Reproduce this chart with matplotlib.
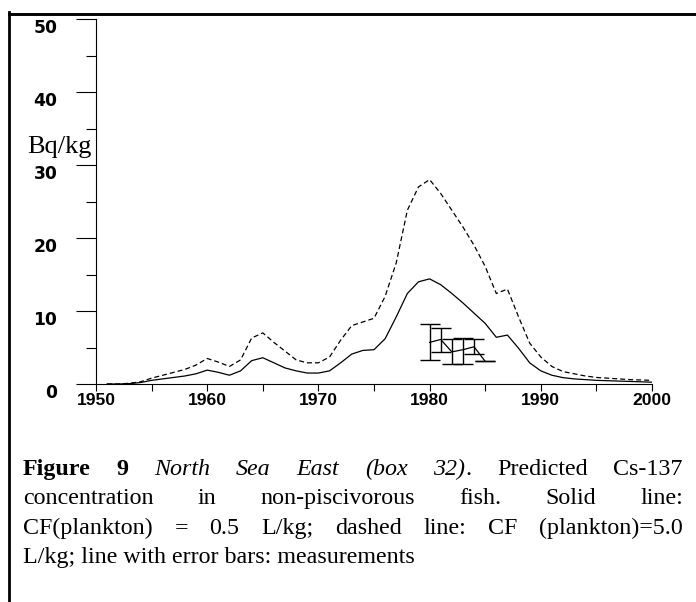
import matplotlib
matplotlib.use('Agg')
import matplotlib.pyplot as plt
from matplotlib.lines import Line2D

# model predictions, Bq/kg
years = list(range(1951, 2001))
solid_cf05 = [0.0, 0.0, 0.05, 0.2, 0.5, 0.7, 0.9, 1.1, 1.4, 1.9,
              1.6, 1.2, 1.8, 3.2, 3.6, 2.9, 2.2, 1.8, 1.5, 1.5,
              1.8, 2.9, 4.1, 4.6, 4.7, 6.2, 9.2, 12.4, 14.0, 14.4,
              13.6, 12.4, 11.1, 9.7, 8.3, 6.4, 6.7, 4.9, 2.9, 1.8,
              1.2, 0.87, 0.7, 0.6, 0.5, 0.45, 0.4, 0.35, 0.3, 0.25]
dashed_cf50 = [0.0, 0.0, 0.1, 0.3, 0.8, 1.2, 1.6, 2.0, 2.6, 3.5,
               3.0, 2.4, 3.3, 6.3, 7.0, 5.7, 4.5, 3.3, 2.9, 2.9,
               3.7, 6.0, 8.0, 8.5, 9.0, 12.0, 16.6, 23.8, 27.0, 28.0,
               26.1, 23.8, 21.5, 19.0, 16.1, 12.4, 13.0, 9.2, 5.6, 3.7,
               2.4, 1.7, 1.4, 1.1, 0.9, 0.8, 0.7, 0.6, 0.55, 0.5]

# measurements
meas_years = [1980, 1981, 1982, 1983, 1984, 1985]
meas_vals = [5.7, 6.1, 4.4, 4.7, 5.1, 3.1]
meas_low = [3.3, 4.4, 2.7, 2.8, 4.1, 3.1]
meas_high = [8.2, 7.7, 6.2, 6.3, 6.2, 3.1]

W, H = 696, 602
fig = plt.figure(figsize=(W / 100, H / 100), dpi=100)
ax = fig.add_axes([96 / W, 1 - 384 / H, 556 / W, 365 / H])

ax.plot(years, solid_cf05, color='black', lw=0.9)
ax.plot(years, dashed_cf50, color='black', lw=0.9, dashes=(4, 2.4))
err = [[v - lo for v, lo in zip(meas_vals, meas_low)],
       [hi - v for v, hi in zip(meas_vals, meas_high)]]
ax.errorbar(meas_years, meas_vals, yerr=err, color='black', lw=0.9,
            elinewidth=1.0, capsize=7, capthick=1.0)

ax.set_xlim(1950, 2000); ax.set_ylim(0, 50)
for s in ['top', 'right']:
    ax.spines[s].set_visible(False)
for s in ['left', 'bottom']:
    ax.spines[s].set_linewidth(0.8)
ax.set_xticks(range(1950, 2001, 10))
ax.set_xticks(range(1955, 2000, 10), minor=True)
ax.set_yticks(range(0, 51, 10))
ax.set_yticks(range(5, 50, 10), minor=True)
ax.tick_params(axis='x', which='both', direction='out', length=5, width=0.8, pad=1.5)
ax.tick_params(axis='y', which='major', direction='out', length=14.4, width=0.8, pad=13.5)
ax.tick_params(axis='y', which='minor', direction='out', length=7.2, width=0.8)
plt.setp(ax.get_xticklabels(), family='Liberation Sans', weight='bold', fontsize=12.6)
plt.setp(ax.get_yticklabels(), family='DejaVu Sans', weight='bold', fontsize=12.3, va='top')

fig.text(27 / W, 1 - 152.7 / H, 'Bq/kg', family='Liberation Serif', fontsize=19, va='baseline')

# frame
fig.add_artist(Line2D([8.5 / W, 1], [1 - 13.5 / H] * 2, transform=fig.transFigure, lw=2.1, color='black'))
fig.add_artist(Line2D([8.5 / W] * 2, [1 - 12 / H, 0], transform=fig.transFigure, lw=2.0, color='black'))

# caption, justified
styles = {'b': dict(weight='bold'), 'i': dict(style='italic'), 'r': {}}
cap_lines = [
    [[('Figure', 'b')], [('9', 'b')], [('North', 'i')], [('Sea', 'i')], [('East', 'i')],
     [('(box', 'i')], [('32)', 'i'), ('.', 'r')], [('Predicted', 'r')], [('Cs-137', 'r')]],
    [[(w, 'r')] for w in 'concentration in non-piscivorous fish. Solid line:'.split()],
    [[(w, 'r')] for w in 'CF(plankton) = 0.5 L/kg; dashed line: CF (plankton)=5.0'.split()],
]
cap_font = dict(family='Liberation Serif', fontsize=17.3)
left, right, base0, pitch = 23, 683, 475, 29.3
renderer = fig.canvas.get_renderer()

def seg_width(s, st):
    t = fig.text(0, 0, s, **cap_font, **styles[st])
    w = t.get_window_extent(renderer).width
    t.remove()
    return w

for i, words in enumerate(cap_lines):
    widths = [[seg_width(s, st) for s, st in word] for word in words]
    total = sum(sum(w) for w in widths)
    gap = (right - left - total) / (len(words) - 1)
    x = left
    y = 1 - (base0 + i * pitch) / H
    for word, ws in zip(words, widths):
        for (s, st), w in zip(word, ws):
            fig.text(x / W, y, s, va='baseline', ha='left', **cap_font, **styles[st])
            x += w
        x += gap
fig.text(left / W, 1 - (base0 + 3 * pitch) / H, 'L/kg; line with error bars: measurements',
         va='baseline', ha='left', **cap_font)

fig.savefig('out.png', dpi=100)
plt.close(fig)
